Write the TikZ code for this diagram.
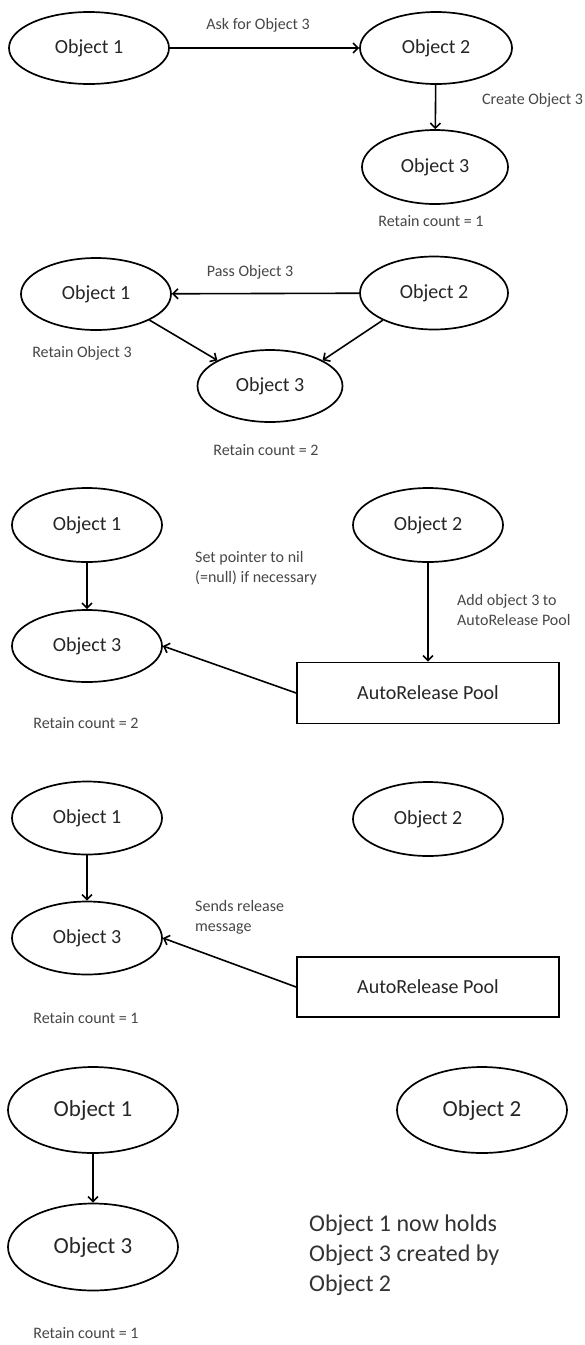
\documentclass[tikz,border=0pt]{standalone}
\usepackage{fontspec}
\setmainfont{Carlito}
\usetikzlibrary{shapes.geometric,arrows.meta}
\begin{document}
\begin{tikzpicture}[x=1pt,y=-1pt,
  obj/.style={ellipse,draw,line width=1.7pt,inner sep=0pt,minimum width=150pt,minimum height=74pt,
    font=\fontsize{20}{24}\selectfont,text=black!85},
  big/.style={minimum width=170pt,minimum height=86pt,font=\fontsize{23}{28}\selectfont},
  pool/.style={rectangle,draw,line width=1.7pt,minimum width=262pt,minimum height=61pt,inner sep=0pt,
    font=\fontsize{20}{24}\selectfont,text=black!85},
  lbl/.style={inner sep=0pt,font=\fontsize{16}{20}\selectfont,text=black!72,align=left},
  note/.style={inner sep=0pt,font=\fontsize{24}{30}\selectfont,text=black!80,align=left},
  link/.style={line width=1.6pt,-{Straight Barb[length=5pt,width=10pt]}}
]
\fill[white] (0,0) rectangle (585,1345);
\useasboundingbox (0,0) rectangle (585,1345);

% Step 1: Object 2 creates Object 3 on request
\node[obj,minimum width=160pt,minimum height=72pt] (a1) at (89,48) {Object 1};
\node[obj,minimum width=152pt,minimum height=72pt] (a2) at (436,48) {Object 2};
\node[obj,minimum width=146pt,minimum height=74pt] (a3) at (435,167) {Object 3};
\draw[link] (a1) -- (a2);
\draw[link] (a2) -- (a3);
\node[lbl] (la1) at (258,25) {Ask for Object 3};
\node[lbl,anchor=west] (la2) at (482,100) {Create Object 3};
\node[lbl] (la3) at (431,221) {Retain count = 1};

% Step 2: Object 3 is passed to Object 1, which retains it
\node[obj,minimum width=150pt,minimum height=72pt] (b1) at (96,294) {Object 1};
\node[obj,minimum width=148pt,minimum height=73pt] (b2) at (434,293) {Object 2};
\node[obj,minimum width=145pt,minimum height=72pt] (b3) at (270,386) {Object 3};
\draw[link] (b2) -- (b1);
\draw[link] (b1.-26) -- (b3.154);
\draw[link] (b2.208) -- (b3.26);
\node[lbl] (lb1) at (250,272) {Pass Object 3};
\node[lbl] (lb2) at (82,353) {Retain Object 3};
\node[lbl] (lb3) at (266,450) {Retain count = 2};

% Step 3: Object 2 hands Object 3 to the autorelease pool
\node[obj] (c1) at (87,525) {Object 1};
\node[obj] (c2) at (428,525) {Object 2};
\node[obj,minimum height=72pt] (c3) at (87,646) {Object 3};
\node[pool] (cp) at (428,693) {AutoRelease Pool};
\draw[link] (c1) -- (c3);
\draw[link] (c2) -- (cp);
\draw[link] (cp.west) -- (c3.east);
\node[lbl,anchor=west] (lc1) at (195,568) {Set pointer to nil\\(=null) if necessary};
\node[lbl,anchor=west] (lc2) at (457,610) {Add object 3 to\\AutoRelease Pool};
\node[lbl] (lc3) at (86,723) {Retain count = 2};

% Step 4: the pool releases Object 3
\node[obj,minimum height=73pt] (d1) at (87,818) {Object 1};
\node[obj] (d2) at (428,819) {Object 2};
\node[obj,minimum height=73pt] (d3) at (87,938) {Object 3};
\node[pool,minimum height=60pt] (dp) at (428,987) {AutoRelease Pool};
\draw[link] (d1) -- (d3);
\draw[link] (dp.west) -- (d3.east);
\node[lbl,anchor=west] (ld1) at (195,917) {Sends release\\message};
\node[lbl] (ld2) at (86,1018) {Retain count = 1};

% Step 5: final state
\node[obj,big] (e1) at (93,1110) {Object 1};
\node[obj,big] (e2) at (482,1110) {Object 2};
\node[obj,big,minimum height=87pt] (e3) at (93,1247) {Object 3};
\draw[link] (e1) -- (e3);
\node[note,anchor=west] (le1) at (309,1255) {Object 1 now holds\\Object 3 created by\\Object 2};
\node[lbl] (le2) at (86,1333) {Retain count = 1};
\end{tikzpicture}
\end{document}
